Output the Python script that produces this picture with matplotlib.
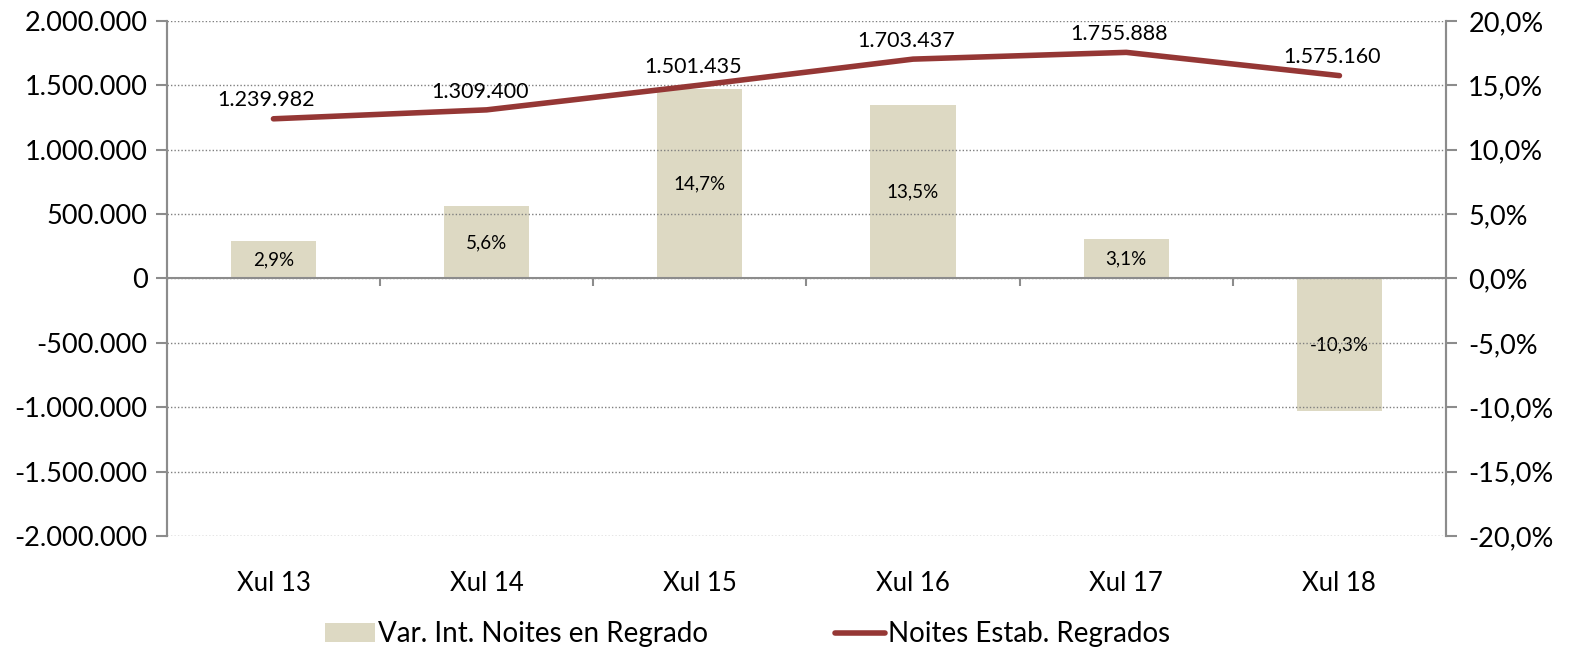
import numpy as np
import matplotlib
matplotlib.use('Agg')
import matplotlib.pyplot as plt
from matplotlib.ticker import FuncFormatter

plt.rcParams['font.family'] = ['Lato', 'DejaVu Sans']

categories = ['Xul 13', 'Xul 14', 'Xul 15', 'Xul 16', 'Xul 17', 'Xul 18']
noites = [1239982, 1309400, 1501435, 1703437, 1755888, 1575160]
variacion = [2.9, 5.6, 14.7, 13.5, 3.1, -10.3]

line_color = '#953735'
bar_color = '#DDD9C3'
axis_gray = '#8C8C8C'

def miles(v, pos=None):
    return f'{int(round(v)):,}'.replace(',', '.')

def pct(v, pos=None):
    return f'{v:.1f}%'.replace('.', ',')

fig, ax = plt.subplots(figsize=(15.74, 6.54), dpi=100)
fig.subplots_adjust(left=0.106, right=0.9187, top=0.968, bottom=0.1804)
ax2 = ax.twinx()

x = np.arange(len(categories))

# bars on the right (percent) axis
bars = ax2.bar(x, variacion, width=0.4, color=bar_color)
for xi, v in zip(x, variacion):
    ax2.text(xi, v / 2, pct(v), ha='center', va='center', fontsize=13.5, color='black')
ax2.set_ylim(-20, 20)
ax2.set_yticks(np.arange(-20, 20.1, 5))
ax2.yaxis.set_major_formatter(FuncFormatter(pct))

# line on the left axis, drawn above bars
ax.set_zorder(ax2.get_zorder() + 1)
ax.patch.set_visible(False)
line, = ax.plot(x, noites, color=line_color, linewidth=4, solid_capstyle='round')
for xi, v in zip(x, noites):
    ax.annotate(miles(v), (xi, v), xytext=(-5, 6), textcoords='offset points',
                ha='center', va='bottom', fontsize=15.5)

ax.set_ylim(-2000000, 2000000)
ax.set_yticks(np.arange(-2000000, 2000001, 500000))
ax.yaxis.set_major_formatter(FuncFormatter(miles))
ax.set_xlim(-0.5, len(categories) - 0.5)
ax.set_xticks(x)
ax.set_xticklabels(categories)

ax.grid(axis='y', linestyle=(0, (1, 1.5)), color='#7F7F7F', linewidth=1)
ax.set_axisbelow(True)

# zero line with category separators
ax.axhline(0, color=axis_gray, linewidth=1.5, zorder=1)
ax.vlines(x[:-1] + 0.5, -62000, 0, color=axis_gray, linewidth=1.5)

for a in (ax, ax2):
    for s in ('top', 'bottom'):
        a.spines[s].set_visible(False)
    a.spines['left'].set_color(axis_gray)
    a.spines['right'].set_color(axis_gray)
    a.spines['left'].set_linewidth(1.5)
    a.spines['right'].set_linewidth(1.5)

ax.tick_params(axis='y', labelsize=19.5, length=8, width=1.5, color=axis_gray, pad=6)
ax2.tick_params(axis='y', labelsize=19.5, length=8, width=1.5, color=axis_gray, pad=8)
ax.tick_params(axis='x', labelsize=18.5, length=0, pad=25)

fig.legend(handles=[bars[0], line],
           labels=['Var. Int. Noites en Regrado', 'Noites Estab. Regrados'],
           loc='center', bbox_to_anchor=(0.475, 0.03), ncol=2,
           frameon=False, fontsize=20, handlelength=1.8, handletextpad=0.1,
           columnspacing=4.6)

plt.savefig('out.png', dpi=100)
